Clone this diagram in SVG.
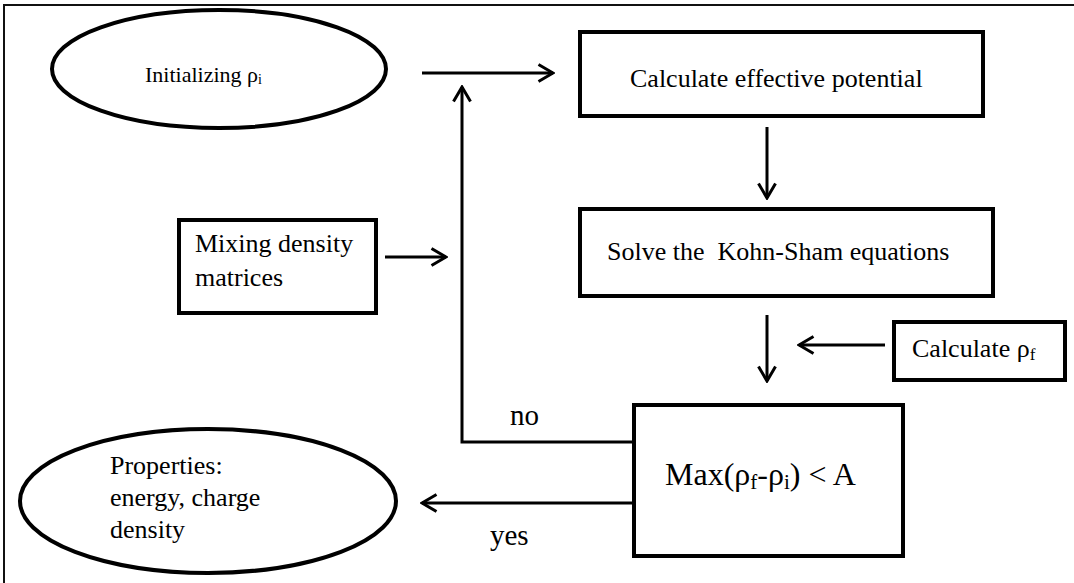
<svg xmlns="http://www.w3.org/2000/svg" width="1074" height="583" viewBox="0 0 1074 583">
<defs>
<style>
.n{fill:#fff;stroke:#000;stroke-width:4}
.c{fill:none;stroke:#000;stroke-width:3}
.t{font-family:"Liberation Serif","Times New Roman",serif;font-size:26px;fill:#000}
.s{font-size:17px}
.lbl{font-size:29px}
.big{font-size:32px}
.bs{font-size:21px}
.sm{font-size:22px}
.ss{font-size:14px}
</style>
<marker id="ah" viewBox="0 0 18 20" refX="16" refY="10" markerWidth="18" markerHeight="20" markerUnits="userSpaceOnUse" orient="auto">
<path d="M1.5,1.5 L16,10 L1.5,18.5" fill="none" stroke="#000" stroke-width="3"/>
</marker>
</defs>
<rect width="1074" height="583" fill="#fff"/>
<path d="M4,583 V5 H1074" fill="none" stroke="#111" stroke-width="2"/>
<g id="connectors">
<line class="c" x1="422" y1="73" x2="553" y2="73" marker-end="url(#ah)"/>
<line class="c" x1="767" y1="127" x2="767" y2="198" marker-end="url(#ah)"/>
<line class="c" x1="767" y1="315" x2="767" y2="381" marker-end="url(#ah)"/>
<line class="c" x1="885" y1="345" x2="799" y2="345" marker-end="url(#ah)"/>
<line class="c" x1="385" y1="257" x2="446" y2="257" marker-end="url(#ah)"/>
<polyline class="c" points="632,442 462,442 462,87" marker-end="url(#ah)"/>
<line class="c" x1="632" y1="503" x2="422" y2="503" marker-end="url(#ah)"/>
<text class="t lbl" x="510" y="425">no</text>
<text class="t lbl" x="490" y="545">yes</text>
</g>
<g id="init">
<ellipse class="n" cx="219" cy="69" rx="167" ry="59"/>
<text class="t sm" x="145" y="82">Initializing ρ<tspan class="ss" dy="2">i</tspan></text>
</g>
<g id="calcpot">
<rect class="n" x="580" y="32" width="403" height="84"/>
<text class="t" x="630" y="87">Calculate effective potential</text>
</g>
<g id="solve">
<rect class="n" x="580" y="209" width="413" height="87"/>
<text class="t" x="607" y="260" xml:space="preserve">Solve the  Kohn-Sham equations</text>
</g>
<g id="mixing">
<rect class="n" x="179" y="220" width="197" height="93"/>
<text class="t" x="195" y="252">Mixing density</text>
<text class="t" x="195" y="286">matrices</text>
</g>
<g id="calcrho">
<rect class="n" x="894" y="322" width="171" height="58"/>
<text class="t" x="912" y="357">Calculate ρ<tspan class="s" dy="3">f</tspan></text>
</g>
<g id="check">
<rect class="n" x="634" y="405" width="269" height="151"/>
<text class="t big" x="665" y="485">Max(ρ<tspan class="bs" dy="4">f</tspan><tspan dy="-4">-ρ</tspan><tspan class="bs" dy="4">i</tspan><tspan dy="-4">) &lt; A</tspan></text>
</g>
<g id="props">
<ellipse class="n" cx="208" cy="501" rx="188" ry="72"/>
<text class="t" x="110" y="474">Properties:</text>
<text class="t" x="110" y="506">energy, charge</text>
<text class="t" x="110" y="538">density</text>
</g>
</svg>
